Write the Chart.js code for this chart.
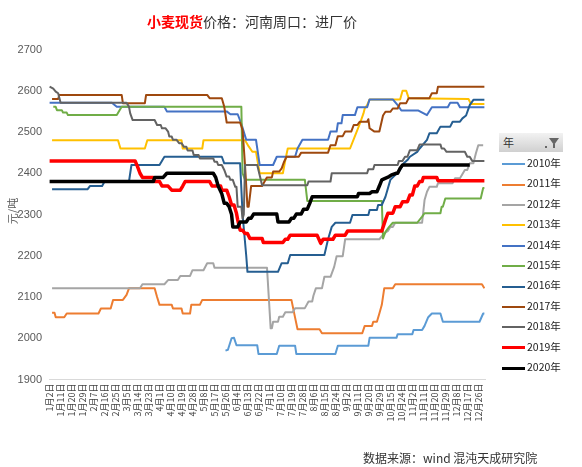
<!DOCTYPE html>
<html><head><meta charset="utf-8">
<script src="https://cdn.jsdelivr.net/npm/chart.js@4/dist/chart.umd.min.js"></script>
<style>
html,body{margin:0;padding:0;background:#fff;}
#wrap{position:relative;width:582px;height:467px;overflow:hidden;font-family:"Noto Sans CJK SC","Noto Sans",sans-serif;}
#c{position:absolute;left:0;top:0;}
#title{position:absolute;left:0;width:504px;top:11px;text-align:center;font-size:14px;line-height:20px;color:#333;white-space:nowrap;}
#title b{color:#ff0000;font-weight:bold;}
#ytitle{position:absolute;left:-8px;top:204px;width:40px;text-align:center;font-size:11px;line-height:14px;color:#595959;transform:rotate(-90deg);}
#source{position:absolute;left:363px;top:449px;font-size:12px;line-height:18px;color:#333;white-space:nowrap;}
#legend{position:absolute;left:499px;top:133px;width:64px;}
#lhead{height:19px;background:linear-gradient(#f2f2f2,#d0d0d0);font-size:11px;line-height:19px;color:#333;padding-left:4px;position:relative;}
#lhead .f{position:absolute;right:4px;top:5px;width:0;height:0;border-left:5px solid transparent;border-right:5px solid transparent;border-top:7px solid #666;}
#lhead .f2{position:absolute;right:8px;top:11px;width:2px;height:4px;background:#666;}
#lhead .d{position:absolute;right:16px;top:13px;width:2px;height:2px;background:#666;}
.li{position:absolute;left:3px;height:20px;font-size:10.5px;line-height:20px;color:#222;white-space:nowrap;}
.li span{display:inline-block;width:23px;vertical-align:middle;margin-right:2px;}
</style></head>
<body>
<div id="wrap">
<canvas id="c" width="582" height="467"></canvas>
<div id="title"><b>小麦现货</b>价格：河南周口：进厂价</div>
<div id="ytitle">元/吨</div>
<div id="source">数据来源：wind 混沌天成研究院</div>
<div id="legend"><div id="lhead">年<i class="d"></i><i class="f"></i><i class="f2"></i></div></div>
</div>
<script>
// x = category index (trading-day position), y = 元/吨
const tickLabels = ['1月2日','1月11日','1月20日','1月29日','2月7日','2月16日','2月25日','3月5日','3月14日','3月23日','4月1日','4月10日','4月19日','4月28日','5月8日','5月17日','5月26日','6月4日','6月13日','6月22日','7月1日','7月10日','7月19日','7月28日','8月6日','8月15日','8月24日','9月2日','9月11日','9月20日','9月29日','10月15日','10月24日','11月2日','11月11日','11月20日','11月29日','12月8日','12月17日','12月26日'];
const seriesNames = ['2010年','2011年','2012年','2013年','2014年','2015年','2016年','2017年','2018年','2019年','2020年'];
const seriesColors = ['#5B9BD5','#ED7D31','#A5A5A5','#FFC000','#4472C4','#70AD47','#255E91','#9E480E','#636363','#FF0000','#000000'];

const s2010 = [[144,1970],[146,1972],[149,2000],[151,2001],[153,1983],[170,1983],[171,1962],[186,1962],[188,1982],[201,1982],[202,1962],[234,1962],[236,1982],[261,1982],[262,2001],[284,2001],[285,2010],[297,2010],[298,2020],[305,2020],[307,2030],[310,2051],[313,2060],[320,2060],[322,2040],[352,2040],[355,2060],[356,2060]];
const s2011 = [[2,2062],[4,2062],[5,2051],[12,2051],[14,2060],[40,2060],[42,2072],[50,2072],[52,2093],[60,2093],[63,2105],[65,2121],[86,2121],[88,2100],[90,2081],[100,2081],[101,2072],[108,2072],[109,2060],[115,2060],[116,2081],[123,2081],[125,2093],[198,2093],[201,2050],[203,2022],[221,2022],[223,2012],[256,2012],[258,2030],[264,2030],[265,2040],[268,2040],[270,2060],[272,2081],[274,2121],[281,2121],[283,2131],[354,2131],[356,2121]];
const s2012 = [[2,2121],[74,2121],[76,2131],[94,2131],[97,2141],[105,2141],[107,2151],[115,2151],[117,2165],[126,2165],[129,2182],[134,2182],[135,2171],[178,2171],[181,2024],[182,2024],[183,2040],[187,2040],[188,2052],[191,2052],[193,2063],[199,2063],[201,2073],[209,2073],[212,2089],[215,2089],[216,2103],[218,2121],[223,2121],[225,2149],[230,2149],[233,2173],[235,2199],[240,2199],[242,2240],[270,2240],[274,2254],[277,2260],[279,2270],[281,2270],[283,2280],[305,2280],[307,2335],[309,2355],[311,2367],[317,2367],[318,2376],[330,2376],[332,2388],[336,2388],[340,2408],[342,2408],[344,2424],[347,2424],[349,2448],[351,2468],[355,2468]];
const s2013 = [[2,2480],[56,2480],[58,2460],[78,2460],[80,2480],[108,2480],[109,2460],[125,2460],[126,2480],[160,2480],[163,2465],[166,2452],[169,2452],[172,2400],[191,2400],[193,2432],[195,2460],[246,2460],[250,2490],[254,2520],[257,2545],[258,2557],[260,2565],[262,2579],[287,2579],[289,2600],[292,2600],[294,2582],[343,2580],[345,2568],[356,2568]];
const s2014 = [[0,2571],[51,2571],[55,2561],[94,2561],[96,2550],[145,2550],[148,2543],[154,2543],[157,2520],[161,2481],[169,2481],[172,2420],[183,2420],[186,2440],[201,2440],[203,2460],[207,2481],[228,2481],[230,2501],[235,2501],[236,2521],[239,2521],[240,2541],[250,2541],[252,2560],[260,2560],[262,2579],[281,2579],[285,2565],[288,2552],[302,2552],[309,2541],[313,2560],[326,2560],[328,2571],[334,2571],[336,2560],[356,2560]];
const s2015 = [[3,2561],[5,2561],[6,2553],[10,2553],[11,2547],[14,2547],[15,2541],[55,2541],[59,2561],[157,2561],[158,2400],[160,2384],[209,2384],[211,2333],[272,2333],[273,2242],[275,2258],[278,2270],[281,2280],[301,2280],[305,2295],[307,2303],[320,2303],[321,2319],[322,2319],[324,2339],[353,2339],[355,2364],[356,2364]];
const s2016 = [[2,2361],[31,2361],[33,2369],[43,2369],[45,2380],[65,2380],[67,2420],[90,2420],[94,2440],[141,2440],[143,2424],[156,2424],[158,2300],[161,2200],[162,2161],[187,2161],[190,2182],[195,2182],[197,2202],[225,2202],[228,2240],[231,2270],[234,2280],[246,2280],[248,2299],[261,2299],[262,2311],[268,2311],[269,2323],[272,2323],[275,2343],[279,2384],[287,2408],[290,2424],[293,2432],[295,2440],[301,2452],[303,2460],[309,2481],[311,2497],[317,2497],[320,2513],[328,2513],[330,2525],[336,2525],[338,2533],[341,2540],[344,2565],[347,2578],[356,2578]];
const s2017 = [[2,2580],[7,2580],[8,2590],[59,2590],[60,2570],[78,2570],[79,2590],[129,2590],[131,2582],[141,2582],[143,2561],[145,2523],[156,2523],[158,2505],[160,2420],[162,2319],[163,2319],[165,2369],[174,2369],[176,2380],[178,2390],[182,2390],[183,2404],[188,2404],[190,2412],[192,2428],[194,2440],[204,2440],[206,2450],[228,2450],[230,2468],[234,2468],[236,2490],[240,2490],[242,2501],[247,2501],[249,2517],[252,2517],[254,2525],[260,2525],[261,2531],[262,2509],[266,2501],[270,2501],[273,2540],[275,2549],[279,2549],[281,2557],[285,2557],[287,2570],[292,2570],[294,2582],[311,2582],[313,2594],[317,2594],[318,2610],[356,2610]];
const s2018 = [[0,2610],[3,2605],[5,2598],[7,2594],[9,2571],[63,2571],[65,2561],[66,2545],[68,2529],[86,2529],[88,2517],[91,2517],[92,2509],[95,2509],[97,2501],[98,2489],[100,2489],[101,2481],[104,2481],[106,2473],[108,2473],[110,2464],[112,2464],[113,2455],[117,2455],[118,2444],[122,2444],[123,2436],[134,2436],[135,2428],[137,2428],[138,2420],[141,2420],[143,2408],[145,2392],[147,2392],[148,2384],[150,2384],[152,2367],[153,2367],[154,2319],[157,2319],[158,2290],[159,2300],[160,2420],[170,2420],[174,2371],[211,2371],[212,2380],[230,2380],[231,2400],[260,2400],[261,2410],[265,2410],[266,2420],[285,2420],[286,2430],[289,2430],[291,2440],[293,2440],[295,2456],[301,2456],[303,2470],[320,2470],[321,2460],[323,2460],[325,2452],[340,2452],[342,2440],[344,2440],[346,2430],[356,2430]];
const s2019 = [[0,2430],[70,2430],[72,2416],[74,2400],[76,2390],[85,2390],[86,2380],[90,2380],[92,2369],[97,2369],[100,2359],[107,2359],[109,2369],[111,2380],[131,2380],[133,2369],[140,2369],[141,2359],[145,2359],[147,2343],[149,2323],[151,2323],[153,2303],[154,2287],[156,2262],[158,2262],[160,2254],[162,2254],[164,2242],[174,2242],[175,2232],[191,2232],[193,2240],[195,2240],[197,2250],[219,2250],[222,2230],[224,2240],[232,2240],[234,2250],[242,2250],[244,2260],[272,2260],[275,2287],[277,2303],[281,2303],[283,2319],[287,2319],[289,2331],[293,2331],[295,2347],[297,2347],[299,2369],[301,2369],[303,2380],[305,2380],[306,2390],[317,2390],[318,2382],[356,2382]];
const s2020 = [[0,2380],[85,2380],[86,2390],[93,2390],[96,2400],[134,2400],[136,2390],[138,2369],[141,2350],[143,2327],[145,2327],[147,2319],[149,2300],[150,2270],[154,2270],[156,2282],[161,2282],[163,2291],[165,2291],[167,2301],[186,2301],[187,2282],[196,2282],[198,2291],[200,2291],[202,2301],[206,2301],[208,2313],[211,2313],[213,2327],[215,2343],[252,2343],[253,2351],[262,2351],[264,2355],[268,2355],[270,2369],[272,2384],[278,2392],[280,2396],[284,2400],[285,2400],[287,2412],[289,2420],[344,2420]];

const allSeries = [s2010,s2011,s2012,s2013,s2014,s2015,s2016,s2017,s2018,s2019,s2020];
const lineWidths = [2,2,2,2,2,2,2,2,2,3.5,3.5];

// legend (HTML)
const lg = document.getElementById('legend');
seriesNames.forEach((n,i)=>{
  const d = document.createElement('div');
  d.className='li';
  d.style.top = (20 + i*20.4) + 'px';
  d.innerHTML = '<span style="border-top:'+(i>=9?3:2)+'px solid '+seriesColors[i]+'"></span>'+n;
  lg.appendChild(d);
});

const FONT = '"Noto Sans CJK SC","Noto Sans",sans-serif';
new Chart(document.getElementById('c'), {
  type:'line',
  data:{datasets: allSeries.map((s,i)=>({
    label: seriesNames[i],
    data: s.map(p=>({x:p[0], y:p[1]})),
    borderColor: seriesColors[i],
    backgroundColor: seriesColors[i],
    borderWidth: lineWidths[i],
    pointRadius: 0,
    tension: 0,
    fill: false,
    borderJoinStyle: 'round',
    order: 10 - i
  }))},
  options:{
    responsive:false,
    animation:false,
    events:[],
    layout:{padding:{left:0, top:49.5, right:97, bottom:0}},
    plugins:{legend:{display:false}, tooltip:{enabled:false}, title:{display:false}},
    scales:{
      x:{
        type:'linear', min:-0.5, max:356.5,
        grid:{display:false, drawTicks:false},
        border:{display:true, color:'#d9d9d9', width:1},
        afterBuildTicks: (sc)=>{ sc.ticks = tickLabels.map((t,i)=>({value:i*9})); },
        ticks:{autoSkip:false, maxRotation:90, minRotation:90, padding:4, color:'#404040',
          font:{size:9, family:FONT},
          callback:(v,i)=>tickLabels[i]},
        afterFit:(sc)=>{ sc.height = 87.5; }
      },
      y:{
        min:1900, max:2700,
        grid:{display:false, drawTicks:false},
        border:{display:false},
        ticks:{stepSize:100, padding:7, color:'#595959', font:{size:11, family:'"Liberation Sans",Arial,sans-serif'},
          callback:(v)=>String(v)},
        afterFit:(sc)=>{ sc.width = 49; }
      }
    }
  }
});
</script>
</body></html>
